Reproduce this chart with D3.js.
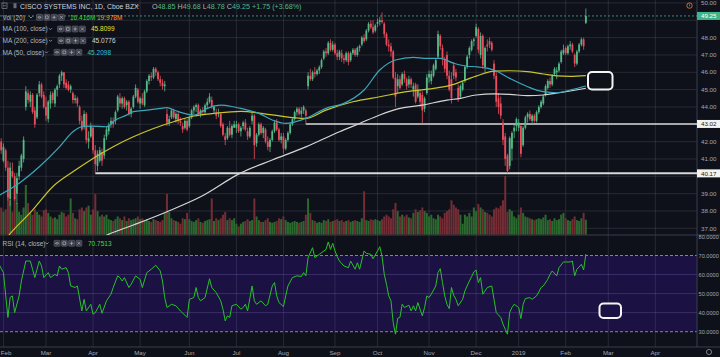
<!DOCTYPE html>
<html><head><meta charset="utf-8">
<script src="https://cdn.jsdelivr.net/npm/d3@7"></script>
<style>html,body{margin:0;padding:0;background:#0f111a;overflow:hidden}svg{display:block}</style>
</head><body><svg id="c" width="720" height="357"></svg>
<script>
// ---------- DATA ----------
const firstBar = -1; // Jan 31 2018; bar 0 = Feb 1 2018
const opens = [
42.0,40.9,41.5,40.5,38.7,40.3,40.0,39.0,40.0,40.5,41.0,
44.0,44.8,44.3,44.7,43.8,43.4,44.8,45.3,44.7,
44.0,43.3,44.2,44.8,44.2,45.0,45.3,45.8,46.0,45.4,45.3,45.0,44.8,44.4,44.5,44.0,43.2,42.9,43.6,42.0,42.3,
42.8,41.5,40.6,40.9,41.4,41.2,42.3,42.6,43.0,43.2,43.2,43.8,44.5,44.2,44.5,44.1,44.3,43.6,44.0,44.6,45.0,
44.2,44.5,44.1,44.9,45.5,45.8,45.7,46.2,46.0,45.6,45.4,45.2,43.6,43.1,43.4,43.8,43.3,43.6,43.2,42.9,42.8,43.2,
42.9,43.4,43.8,44.0,44.1,43.6,43.8,43.7,44.1,44.3,44.4,43.8,43.7,43.6,43.6,43.0,42.3,42.2,42.8,42.4,42.8,
42.8,43.0,42.6,42.9,43.1,42.6,42.3,43.2,43.5,41.9,42.4,43.0,42.5,42.7,42.0,41.7,42.1,42.6,43.1,42.7,42.1,
42.3,41.6,42.1,42.5,43.0,43.3,43.7,43.9,43.6,43.8,43.8,45.2,45.8,45.6,46.0,45.9,46.1,46.3,46.8,47.2,47.1,47.7,47.3,
47.6,47.1,46.9,47.1,46.8,46.7,47.1,46.7,47.1,47.3,47.0,47.4,47.6,48.0,47.9,48.4,48.8,48.6,48.4,
48.8,48.9,49.0,48.8,48.2,47.6,47.5,47.2,45.7,45.2,45.6,45.3,45.9,45.6,45.3,45.6,45.0,45.3,44.6,44.8,44.7,43.9,44.8,
45.7,45.5,45.8,46.2,46.9,48.1,47.4,46.7,47.0,45.8,45.6,46.4,46.0,45.1,44.6,45.0,45.5,46.3,47.0,47.3,47.8,
48.1,48.5,47.0,48.1,46.3,47.6,47.8,47.7,46.5,45.8,44.5,44.2,43.1,42.3,41.2,40.6,41.6,42.6,42.9,
42.8,42.9,41.8,42.8,43.4,43.6,43.2,43.5,43.2,43.7,44.0,44.2,44.7,45.1,45.5,45.3,45.9,46.0,46.1,46.6,47.1,
47.4,47.1,47.5,47.6,47.0,46.5,47.2,47.6,47.9,48.85];
const highs = [
42.2,41.9,41.6,40.9,40.8,40.8,40.2,40.2,40.9,41.3,42.3,
45.2,45.0,44.9,44.8,44.0,44.8,45.5,45.4,44.9,
44.6,44.4,44.9,44.9,45.1,45.3,45.9,46.1,46.0,45.6,45.5,45.3,44.9,44.7,44.6,44.1,43.5,43.8,43.7,42.6,43.1,
42.9,41.8,41.5,41.7,41.6,42.4,42.9,43.1,43.4,43.4,43.8,44.7,44.8,44.6,44.6,44.4,44.4,44.0,44.7,45.3,45.1,
44.6,44.8,45.0,45.6,45.9,46.0,46.3,46.3,46.1,45.8,45.6,45.5,43.9,43.5,43.9,43.9,43.7,43.7,43.4,43.1,43.3,43.3,
43.5,43.9,44.1,44.2,44.2,43.9,44.0,44.2,44.5,44.8,44.6,44.1,43.9,43.9,43.7,43.1,42.5,42.9,43.2,43.0,43.2,
43.2,43.1,42.9,43.2,43.3,42.8,42.9,43.7,43.6,42.5,43.1,43.1,42.9,42.8,42.3,42.2,42.7,43.2,43.3,42.8,42.5,
42.5,42.2,42.6,43.1,43.4,43.8,44.0,44.0,44.0,44.1,43.9,46.0,46.2,46.1,46.3,46.2,46.4,46.8,47.3,47.4,47.8,47.9,47.8,
47.7,47.3,47.3,47.3,47.0,47.2,47.2,47.2,47.4,47.4,47.5,47.6,48.1,48.2,48.5,48.9,49.0,49.0,48.8,
49.1,49.2,49.45,48.9,48.3,47.9,47.7,47.3,46.0,45.9,45.8,46.0,46.1,45.7,45.8,45.7,45.4,45.4,45.3,45.0,44.9,44.6,45.9,
46.1,46.1,46.5,46.8,48.4,48.2,47.6,46.9,47.2,46.1,46.0,46.6,46.2,45.3,45.3,45.5,46.4,47.0,47.5,47.9,48.0,
48.8,48.6,48.3,48.2,47.5,47.9,48.0,47.8,46.7,46.0,44.8,44.6,43.3,42.5,41.3,42.3,42.6,43.0,43.4,
43.3,43.0,42.9,43.5,43.7,43.8,43.6,43.6,43.8,44.1,44.4,44.7,45.3,45.6,45.7,45.9,46.3,46.3,46.6,47.3,47.6,
47.5,47.6,47.8,47.7,47.1,47.3,47.7,48.0,48.0,49.68];
const lows = [
41.3,40.8,40.3,38.6,38.3,39.9,38.6,38.4,39.8,40.3,40.8,
43.8,44.2,44.0,43.6,42.8,43.3,44.6,44.5,43.9,
43.2,43.1,43.9,44.2,44.0,44.6,45.1,45.5,45.1,45.0,44.9,44.8,44.2,44.2,44.0,43.0,42.6,42.7,41.9,41.6,42.2,
41.3,40.17,40.3,40.8,40.6,41.0,42.1,42.4,42.8,42.8,43.0,43.7,44.0,43.9,43.9,43.8,43.5,43.4,43.9,44.5,44.2,
43.9,44.1,44.0,44.8,45.3,45.5,45.6,45.8,45.5,45.2,45.0,44.9,42.9,42.9,43.3,43.3,43.1,43.0,42.9,42.5,42.7,42.6,
42.8,43.3,43.6,43.7,43.5,43.4,43.5,43.6,43.9,44.2,43.9,43.6,43.3,43.4,42.8,42.3,41.8,42.1,42.3,42.2,42.8,
42.5,42.5,42.3,42.7,42.6,42.1,42.2,43.0,41.0,41.7,42.3,42.4,42.2,41.9,41.5,41.4,42.0,42.5,42.6,42.0,41.9,
41.3,41.5,42.0,42.4,42.9,43.2,43.5,43.5,43.4,43.6,43.02,45.0,45.5,45.5,45.7,45.8,45.9,46.2,46.7,46.9,47.0,47.2,47.2,
47.0,46.7,46.7,46.6,46.5,46.6,46.4,46.6,47.0,46.9,46.9,47.2,47.5,47.7,47.8,48.3,48.5,48.2,48.3,
48.6,48.7,48.8,48.0,47.5,47.2,46.9,45.6,44.0,44.8,45.0,45.2,45.4,45.0,45.1,45.1,44.6,44.2,44.5,44.0,43.05,43.7,44.7,
45.4,45.3,45.7,46.1,46.8,47.3,46.4,46.0,45.6,44.9,44.2,45.6,45.5,44.3,44.5,44.9,45.4,46.2,46.8,47.2,47.5,
48.0,47.1,46.8,46.2,46.0,47.2,47.4,47.2,45.6,44.0,43.6,43.3,41.8,40.6,40.17,40.4,40.9,42.2,42.6,
42.6,41.1,41.7,42.7,43.1,43.2,43.0,43.1,43.1,43.6,43.9,44.1,44.6,45.0,45.1,45.2,45.8,45.6,46.0,46.5,47.0,
47.0,47.0,47.3,47.1,46.3,46.4,47.1,47.5,47.3,48.78];
const closes = [
41.5,41.7,40.5,38.8,40.5,40.0,38.7,39.9,40.6,41.2,42.1,
44.9,44.4,44.7,43.7,43.0,44.7,45.3,44.6,44.0,
43.5,44.3,44.7,44.4,45.0,45.2,45.8,46.0,45.3,45.1,45.0,45.2,44.4,44.5,44.2,43.2,42.7,43.6,42.1,42.2,42.9,
41.5,40.7,41.3,41.5,40.9,42.2,42.7,42.9,43.2,43.0,43.7,44.6,44.2,44.5,44.0,44.3,43.6,43.9,44.6,45.1,44.3,
44.5,44.2,44.9,45.5,45.8,45.7,46.2,46.0,45.6,45.4,45.2,45.3,43.1,43.3,43.8,43.4,43.6,43.2,43.1,42.7,43.2,42.7,
43.4,43.8,44.0,44.1,43.6,43.8,43.7,44.1,44.3,44.6,44.0,44.0,43.5,43.7,42.9,42.4,42.1,42.8,42.4,42.9,43.0,
43.0,42.6,42.8,43.1,42.7,42.3,42.8,43.5,41.8,42.4,43.0,42.5,42.8,42.0,41.7,42.1,42.6,43.1,42.7,42.1,42.3,
41.6,42.1,42.5,43.0,43.3,43.7,43.9,43.6,43.8,44.0,43.5,45.8,45.6,46.0,45.9,46.1,46.3,46.7,47.2,47.1,47.7,47.3,47.6,
47.1,46.9,47.2,46.8,46.7,47.1,46.6,47.1,47.3,47.0,47.4,47.5,48.0,47.8,48.4,48.8,48.6,48.3,48.7,
48.9,49.0,48.9,48.2,47.6,47.5,47.2,45.7,44.6,45.6,45.1,45.9,45.6,45.2,45.6,45.3,45.2,44.3,45.0,44.3,43.8,44.5,45.7,
45.9,45.9,46.4,46.7,48.2,47.5,46.8,46.2,45.8,45.0,44.5,45.8,45.7,44.5,45.2,45.4,46.3,46.9,47.4,47.8,47.9,
48.6,47.3,48.1,46.4,47.4,47.5,47.6,47.3,45.8,44.3,44.0,43.5,42.1,41.0,40.3,42.2,42.5,42.8,43.3,
43.1,41.3,42.8,43.4,43.6,43.3,43.5,43.2,43.7,44.0,44.3,44.6,45.2,45.5,45.3,45.8,46.2,46.1,46.5,47.2,47.3,
47.1,47.5,47.6,47.2,46.5,47.2,47.6,47.9,47.5,49.25];
const volumes = [ // millions
30,25,28,45,38,25,42,35,25,22,30,
55,35,24,22,28,25,22,20,27,
28,24,20,18,19,17,22,25,24,20,22,40,24,18,17,28,30,26,30,32,22,
28,45,26,20,22,20,22,17,16,15,17,20,18,16,20,15,18,16,17,18,20,
17,18,16,17,15,14,17,16,15,14,16,24,45,25,18,16,15,14,12,18,17,24,
17,15,14,16,18,14,13,15,16,17,40,15,18,16,18,22,25,16,18,16,18,
12,9,12,14,15,17,15,16,40,20,16,14,14,16,18,14,13,14,15,18,17,
20,16,14,13,14,15,14,13,14,15,22,40,24,16,15,13,14,13,16,15,17,14,15,
16,17,15,16,14,15,16,14,15,16,15,14,18,48,16,15,17,16,17,
16,15,17,20,22,20,18,28,35,26,20,22,20,22,19,18,24,28,25,27,30,26,24,
20,22,18,17,22,20,18,24,26,28,38,33,30,28,22,12,22,20,24,20,30,
26,34,30,28,25,24,22,20,28,30,29,32,38,65,25,28,26,20,18,
22,30,24,20,19,18,17,16,17,18,17,19,22,16,17,15,18,16,17,22,24,
18,16,15,17,20,16,15,18,24,16.4];

// moving averages (bar index, value)
const ma50Bars = [-2,7,16,25,31,35,39,46,50,55,58,64,70,73,77,82,85,91,97,103,106,114,120,126,135,144,152,161,168,175,183,189,195,201,204,207,211,219,226,234,241,247,253,260];
const ma50Vals = [38.9,39.6,40.55,41.7,42.57,42.86,42.9,42.86,43.25,43.53,43.73,43.82,43.92,43.96,43.78,43.59,43.53,43.92,44.11,44.0,43.92,43.63,43.25,43.05,43.34,43.92,44.21,44.98,46.13,46.71,46.86,46.8,46.8,46.52,46.42,46.35,46.32,46.13,45.65,45.17,44.88,44.82,44.98,45.21];
const ma100Bars = [-2,3,13,22,31,40,49,58,67,76,85,94,106,120,135,144,156,168,180,192,201,204,211,219,226,234,241,247,253,260];
const ma100Vals = [35.9,36.7,38.05,39.4,40.26,41.03,41.71,42.28,42.76,43.15,43.48,43.63,43.75,43.54,43.34,43.82,44.3,44.59,44.88,45.07,45.3,45.45,45.78,46.07,46.09,46.04,45.9,45.79,45.77,45.81];
const ma200Bars = [40,46,58,73,88,106,120,135,150,159,168,177,187,198,204,211,219,226,234,241,248,260];
const ma200Vals = [36.2,36.6,37.19,37.96,38.82,40.2,40.94,41.7,42.57,43.05,43.54,43.92,44.11,44.4,44.5,44.69,44.75,44.73,44.65,44.69,44.82,45.08];

// RSI(14)
const rsiBars = [-2,0,2,3,4,5,7,8,10,12,13,14,16,17,18,20,21,23,24,25,26,28,29,30,32,33,35,36,37,39,40,41,43,44,46,48,49,51,52,53,54,56,57,59,61,62,64,66,68,70,71,72,73,75,77,79,81,82,83,85,86,87,88,90,92,93,95,97,98,99,100,101,102,104,106,107,108,109,111,112,113,115,117,118,120,121,122,123,125,126,127,129,131,133,134,135,136,138,139,141,144,145,146,147,148,149,150,152,154,155,157,158,159,161,162,164,165,167,168,169,170,171,172,173,174,175,176,177,178,179,181,182,183,184,185,187,188,189,190,191,193,194,195,196,197,198,199,200,201,202,203,205,206,208,209,210,211,212,213,214,215,216,218,219,220,222,223,224,225,226,227,228,230,231,232,233,235,236,238,239,240,241,243,244,245,247,248,250,251,253,254,255,256,257,258,259,260];
const rsiVals = [65.4,61,37.5,48,48.8,40,48.8,56.6,67.1,67.1,62.8,58.4,67.1,64.5,58.4,61,58.4,60.1,59.3,64.5,62.8,63.6,61,54,53.2,54,40.9,47,40.9,44.4,39.2,40,44.4,39.7,46.2,49.7,53.2,59.3,58.4,56.6,58.4,53.2,54.9,59.3,57.5,53.2,61,62.8,64.9,61.9,56.6,47.9,42.7,44.4,43.6,40.9,38.7,37.5,47,47.9,53.2,47.9,46.2,47.9,57.8,53.2,50.5,46.2,41.8,35.7,38.3,37.5,43.6,44.4,41.8,42.7,44.4,40.9,54,46.2,44.4,46.2,43.6,44.4,54,55.8,48.8,45.3,43.2,48.8,54,58.4,59.3,59,61,59.3,68.9,74.1,68.9,70.6,73.2,77.1,73.2,76.4,72.4,69.4,67.1,64.5,63.6,67.1,62.8,66.2,62.8,72.4,71.1,70.6,68.3,72.4,74.6,69.7,60.1,54.9,48.8,46.2,34.8,28.7,37,37.5,44.4,42.7,43.9,40.9,43.6,40.9,45.3,38.3,42.7,48.8,47.9,49.7,54,61,63.1,55.8,48.8,44.4,42.1,53.2,49.1,47,43.6,47,51.4,56.6,58.9,61.4,62.4,55.8,58.4,49.7,51.4,53.2,54,47,40,37.5,34,31.3,28.7,40.1,42.7,44.4,42.7,36.9,44.4,47.4,47.9,47,48.8,50.9,53.2,54,57.5,60.1,61.9,59.3,63.6,66.6,66.6,66.6,67.1,59.3,62.8,64,65.4,62.4,70.75];

const monthLabels = ["Feb","Mar","Apr","May","Jun","Jul","Aug","Sep","Oct","Nov","Dec","2019","Feb","Mar","Apr"];
const monthBars   = [0,19,40,61,83,104,125,148,167,190,211,230,251,270,291];
const priceTicks = [37,38,39,40,41,42,43,44,45,46,47,48,49,50];
const rsiTicks = [80,70,60,50,40,30];
const rayLevels = [43.02, 40.17];
const rayStartBars = [135, 41];
const lastPrice = 49.25;

// ---------- LAYOUT ----------
const W = 720, H = 357, AX = 697;
const BG = '#0f111a';
const UP = '#53b987', DN = '#eb4d5c';
const svg = d3.select('#c');
const x = d3.scaleLinear().domain([0, 251]).range([3.44, 565.7]);
const yP = d3.scaleLinear().domain([37, 50]).range([228.33, 2.95]);
const yV = d3.scaleLinear().domain([0, 70]).range([234.5, 171.5]);
const yR = d3.scaleLinear().domain([30, 70]).range([331.7, 255.5]);
const PANE1_B = 235, PANE2_B = 347;

svg.append('rect').attr('width', W).attr('height', H).attr('fill', BG);
const defs = svg.append('defs');
defs.append('clipPath').attr('id', 'cp1').append('rect').attr('x', 0).attr('y', 0).attr('width', AX).attr('height', PANE1_B);
defs.append('clipPath').attr('id', 'cp2').append('rect').attr('x', 0).attr('y', PANE1_B).attr('width', AX).attr('height', PANE2_B - PANE1_B);

// RSI band
svg.append('rect').attr('x', 0).attr('y', yR(70)).attr('width', AX).attr('height', yR(30) - yR(70)).attr('fill', '#1c1143');

// grids
const grid = svg.append('g');
grid.selectAll('.vg').data(monthBars).join('line')
  .attr('x1', d => x(d)).attr('x2', d => x(d)).attr('y1', 0).attr('y2', PANE2_B)
  .attr('stroke', 'rgba(130,133,150,0.26)').attr('stroke-width', 0.8);
grid.selectAll('.hg').data(priceTicks).join('line')
  .attr('x1', 0).attr('x2', AX).attr('y1', d => yP(d)).attr('y2', d => yP(d))
  .attr('stroke', 'rgba(130,133,150,0.26)').attr('stroke-width', 0.8);
grid.selectAll('.rg').data([60, 50, 40]).join('line')
  .attr('x1', 0).attr('x2', AX).attr('y1', d => yR(d)).attr('y2', d => yR(d))
  .attr('stroke', 'rgba(150,130,210,0.32)').attr('stroke-width', 0.8);
grid.selectAll('.rd').data([70, 30]).join('line')
  .attr('x1', 0).attr('x2', AX).attr('y1', d => yR(d)).attr('y2', d => yR(d))
  .attr('stroke', '#a59bc8').attr('stroke-width', 0.8).attr('stroke-dasharray', '3,2');

// pane separators / axes lines
svg.append('line').attr('x1', 0).attr('x2', W).attr('y1', PANE1_B).attr('y2', PANE1_B).attr('stroke', '#3a3e4c').attr('stroke-width', 1);
svg.append('line').attr('x1', 0).attr('x2', W).attr('y1', PANE2_B).attr('y2', PANE2_B).attr('stroke', '#3a3e4c').attr('stroke-width', 1);
svg.append('line').attr('x1', AX).attr('x2', AX).attr('y1', 0).attr('y2', PANE2_B).attr('stroke', '#3a3e4c').attr('stroke-width', 1);

const bars = closes.map((c, k) => ({i: k + firstBar, o: opens[k], h: highs[k], l: lows[k], c, v: volumes[k]}));

// volume
const p1 = svg.append('g').attr('clip-path', 'url(#cp1)');
p1.selectAll('.vol').data(bars).join('rect')
  .attr('x', d => x(d.i) - 1.0).attr('width', 2.0)
  .attr('y', d => yV(d.v)).attr('height', d => yV(0) - yV(d.v))
  .attr('fill', d => d.c >= d.o ? '#2a6a2e' : '#742c35');

// horizontal rays
p1.selectAll('.ray').data(rayLevels).join('line')
  .attr('x1', (d, k) => x(rayStartBars[k])).attr('x2', AX)
  .attr('y1', d => yP(d)).attr('y2', d => yP(d))
  .attr('stroke', '#d8d8d8').attr('stroke-width', (d, k) => k === 1 ? 2 : 1.5);

// last price line
p1.append('line').attr('x1', 0).attr('x2', AX).attr('y1', yP(lastPrice)).attr('y2', yP(lastPrice))
  .attr('stroke', '#3fae86').attr('stroke-width', 0.8).attr('stroke-dasharray', '2,2');

// candles
const cg = p1.append('g');
cg.selectAll('.wick').data(bars).join('line')
  .attr('x1', d => x(d.i)).attr('x2', d => x(d.i))
  .attr('y1', d => yP(d.h)).attr('y2', d => yP(d.l))
  .attr('stroke', d => d.c >= d.o ? UP : DN).attr('stroke-width', 0.8);
cg.selectAll('.body').data(bars).join('rect')
  .attr('x', d => x(d.i) - 0.9).attr('width', 1.8)
  .attr('y', d => yP(Math.max(d.o, d.c)))
  .attr('height', d => Math.max(0.8, Math.abs(yP(d.o) - yP(d.c))))
  .attr('fill', d => d.c >= d.o ? UP : DN);

// moving averages
const maLine = d3.line().x(d => x(d[0])).y(d => yP(d[1])).curve(d3.curveMonotoneX);
const mas = [[ma200Bars, ma200Vals, '#d6d6d6'], [ma100Bars, ma100Vals, '#c9c52b'], [ma50Bars, ma50Vals, '#3aa8ba']];
mas.forEach(([b, v, col]) => {
  p1.append('path').datum(b.map((bb, k) => [bb, v[k]])).attr('d', maLine)
    .attr('fill', 'none').attr('stroke', col).attr('stroke-width', 1.2);
});

// RSI line
const p2 = svg.append('g').attr('clip-path', 'url(#cp2)');
const rsiLine = d3.line().x(d => x(d[0])).y(d => yR(d[1]));
p2.append('path').datum(rsiBars.map((b, k) => [b, rsiVals[k]])).attr('d', rsiLine)
  .attr('fill', 'none').attr('stroke', '#27c227').attr('stroke-width', 1);

// marker boxes
svg.append('rect').attr('x', 588).attr('y', 72).attr('width', 24.5).attr('height', 17.5).attr('rx', 4)
  .attr('fill', BG).attr('stroke', '#f4f4f4').attr('stroke-width', 2);
svg.append('rect').attr('x', 599.5).attr('y', 303.5).attr('width', 21.5).attr('height', 14.5).attr('rx', 4)
  .attr('fill', '#1c1143').attr('stroke', '#f4f4f4').attr('stroke-width', 2);

// ---------- AXES TEXT ----------
const FONT = '"Liberation Sans", Arial, sans-serif';
const tagged = [lastPrice].concat(rayLevels);
const axT = svg.append('g').attr('font-family', FONT).attr('font-size', 6.2).attr('fill', '#a3a6af');
axT.selectAll('.pt').data(priceTicks.filter(t => tagged.every(v => Math.abs(yP(t) - yP(v)) > 7))).join('text')
  .attr('x', 701).attr('y', d => yP(d) + 2.2).text(d => d.toFixed(2));
axT.selectAll('.rt').data(rsiTicks).join('text')
  .attr('x', 698.6).attr('y', d => yR(d) + 2.1).attr('font-size', 5.6).text(d => d.toFixed(4));
axT.selectAll('.mt').data(monthLabels).join('text')
  .attr('x', (d, k) => k === 0 ? 0.8 : x(monthBars[k])).attr('y', 354.5)
  .attr('text-anchor', (d, k) => k === 0 ? 'start' : 'middle').text(d => d);

// price labels
function priceTag(v, fill, txt) {
  const yy = yP(v);
  svg.append('rect').attr('x', AX).attr('y', yy - 4).attr('width', W - AX).attr('height', 8).attr('fill', fill);
  svg.append('text').attr('x', 701).attr('y', yy + 2.2).attr('font-family', FONT).attr('font-size', 6.2)
    .attr('fill', txt).text(v.toFixed(2));
}
priceTag(lastPrice, '#3fb58a', '#ffffff');
rayLevels.forEach(v => priceTag(v, '#f2f2f2', '#1a1a1a'));

// orange alert icon & settings icon
svg.append('circle').attr('cx', 689.5).attr('cy', 5.6).attr('r', 2.7).attr('fill', 'none').attr('stroke', '#e07a30').attr('stroke-width', 0.9);
svg.append('line').attr('x1', 689.5).attr('x2', 689.5).attr('y1', 4.2).attr('y2', 6.3).attr('stroke', '#e07a30').attr('stroke-width', 0.7);
svg.append('circle').attr('cx', 709).attr('cy', 352).attr('r', 2.6).attr('fill', 'none').attr('stroke', '#9598a1').attr('stroke-width', 0.8);

// ---------- LEGENDS ----------
const lg = svg.append('g').attr('font-family', FONT);
function chevron(cx, cy) {
  lg.append('path').attr('d', `M${cx - 1.5},${cy - 0.8} L${cx},${cy + 0.7} L${cx + 1.5},${cy - 0.8}`)
    .attr('fill', 'none').attr('stroke', '#b2b5be').attr('stroke-width', 0.7);
}
function icons(x0, cy) {
  for (let k = 0; k < 4; k++) {
    const xx = x0 + k * 7.3;
    lg.append('rect').attr('x', xx).attr('y', cy - 3).attr('width', 6).attr('height', 6).attr('rx', 0.8)
      .attr('fill', '#3a3d48').attr('stroke', '#6c6f7a').attr('stroke-width', 0.5);
    const g = lg.append('path').attr('fill', 'none').attr('stroke', '#c5c7ce').attr('stroke-width', 0.6);
    if (k === 0) g.attr('d', `M${xx + 1.3},${cy} Q${xx + 3},${cy - 1.8} ${xx + 4.7},${cy} Q${xx + 3},${cy + 1.8} ${xx + 1.3},${cy}`);
    if (k === 1) g.attr('d', `M${xx + 1.6},${cy - 1.4} h2.8 v2.8 h-2.8 z`);
    if (k === 2) g.attr('d', `M${xx + 3},${cy - 1.8} v3.6 M${xx + 1.2},${cy} h3.6`);
    if (k === 3) g.attr('d', `M${xx + 1.5},${cy - 1.5} l3,3 M${xx + 4.5},${cy - 1.5} l-3,3`);
  }
}
// row 1
lg.append('rect').attr('x', 2).attr('y', 3).attr('width', 5).attr('height', 5.5).attr('fill', 'none').attr('stroke', '#9598a1').attr('stroke-width', 0.6);
lg.append('line').attr('x1', 3).attr('x2', 6).attr('y1', 5.75).attr('y2', 5.75).attr('stroke', '#9598a1').attr('stroke-width', 0.6);
lg.append('rect').attr('x', 13.5).attr('y', 3.2).attr('width', 3).attr('height', 5).attr('fill', '#6a6d78');
lg.append('text').attr('x', 20).attr('y', 8.6).attr('font-size', 6.9).attr('fill', '#d1d4dc').text('CISCO SYSTEMS INC, 1D, Cboe BZX');
chevron(137.5, 6);
const ohlc = lg.append('text').attr('x', 152).attr('y', 8.6).attr('font-size', 7.2);
[['O', '48.85'], [' H', '49.68'], [' L', '48.78'], [' C', '49.25'], [' ', '+1.75 (+3.68%)']].forEach(([a, b]) => {
  ohlc.append('tspan').attr('fill', '#b2b5be').text(a);
  ohlc.append('tspan').attr('fill', '#53b987').text(b);
});
// rows 2-5 and RSI legend
const rows = [
  {name: 'Vol (20)', y: 17.3, chev: 31, ic: 36.5, vals: [['16.416M', '#3ddc3d', 70], ['19.978M', '#ff9a1f', 97]]},
  {name: 'MA (100, close)', y: 29, chev: 50.5, ic: 57.5, vals: [['45.8099', '#e5e52c', 91]]},
  {name: 'MA (200, close)', y: 40.7, chev: 50.5, ic: 58, vals: [['45.0776', '#d8d8d8', 92]]},
  {name: 'MA (50, close)', y: 52.3, chev: 46.5, ic: 54, vals: [['45.2098', '#2fc0d6', 87.5]]},
  {name: 'RSI (14, close)', y: 243.3, chev: 47, ic: 54, vals: [['70.7513', '#3ddc3d', 88]]}
];
rows.forEach(r => {
  lg.append('text').attr('x', 2.5).attr('y', r.y + 2.3).attr('font-size', 6.5).attr('fill', '#b2b5be').text(r.name);
  chevron(r.chev, r.y);
  icons(r.ic, r.y);
  r.vals.forEach(([t, col, xx]) => lg.append('text').attr('x', xx).attr('y', r.y + 2.3).attr('font-size', 6.5).attr('fill', col).text(t));
});
</script></body></html>
